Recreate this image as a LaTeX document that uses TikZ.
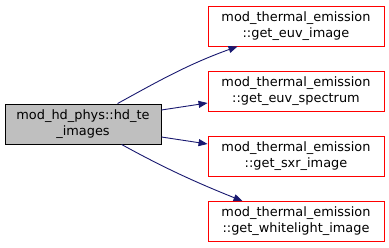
\documentclass[tikz,border=0pt]{standalone}
\usepackage{fontspec}
\setmainfont{DejaVu Sans}
\usetikzlibrary{arrows.meta,calc}
\definecolor{edgeblue}{HTML}{191970}
\definecolor{boxred}{HTML}{FF0000}
\definecolor{boxgray}{HTML}{BFBFBF}
\begin{document}
\begin{tikzpicture}[x=1pt,y=-1pt,
  base/.style={draw, line width=0.9pt, inner sep=0pt, align=center,
    font=\fontsize{12.9}{16}\selectfont},
  mainbox/.style={base, fill=boxgray, draw=black, minimum width=156pt, minimum height=40pt},
  funcbox/.style={base, fill=white, draw=boxred, minimum width=176pt, minimum height=40pt},
  edge/.style={draw=edgeblue, line width=0.9pt, -{Triangle[length=9pt,width=7pt]}}]
\useasboundingbox (0,0) rectangle (389,248);
\node[mainbox] (L) at (83,124) {mod\_hd\_phys::hd\_te\\\_images};
\node[funcbox] (A) at (296,26) {mod\_thermal\_emission\\::get\_euv\_image};
\node[funcbox] (B) at (296,91) {mod\_thermal\_emission\\::get\_euv\_spectrum};
\node[funcbox] (C) at (296,156) {mod\_thermal\_emission\\::get\_sxr\_image};
\node[funcbox] (D) at (296,221.5) {mod\_thermal\_emission\\::get\_whitelight\_image};
\coordinate (l1) at ($(L.north west)+(113,0)$);
\coordinate (l4) at ($(L.south west)+(117,0)$);
\coordinate (a1) at ($(A.south west)+(30,0)$);
\coordinate (d1) at ($(D.north west)+(35,0)$);
\draw[edge] (l1) .. controls ($(l1)+(40,-22)$) and ($(a1)+(-50,18)$) .. (a1);
\draw[edge] ($(L.east)+(0,-14)$) -- ($(B.west)+(0,12)$);
\draw[edge] ($(L.east)+(0,13)$) -- ($(C.west)+(0,-12)$);
\draw[edge] (l4) .. controls ($(l4)+(40,22)$) and ($(d1)+(-50,-20)$) .. (d1);
\end{tikzpicture}
\end{document}
